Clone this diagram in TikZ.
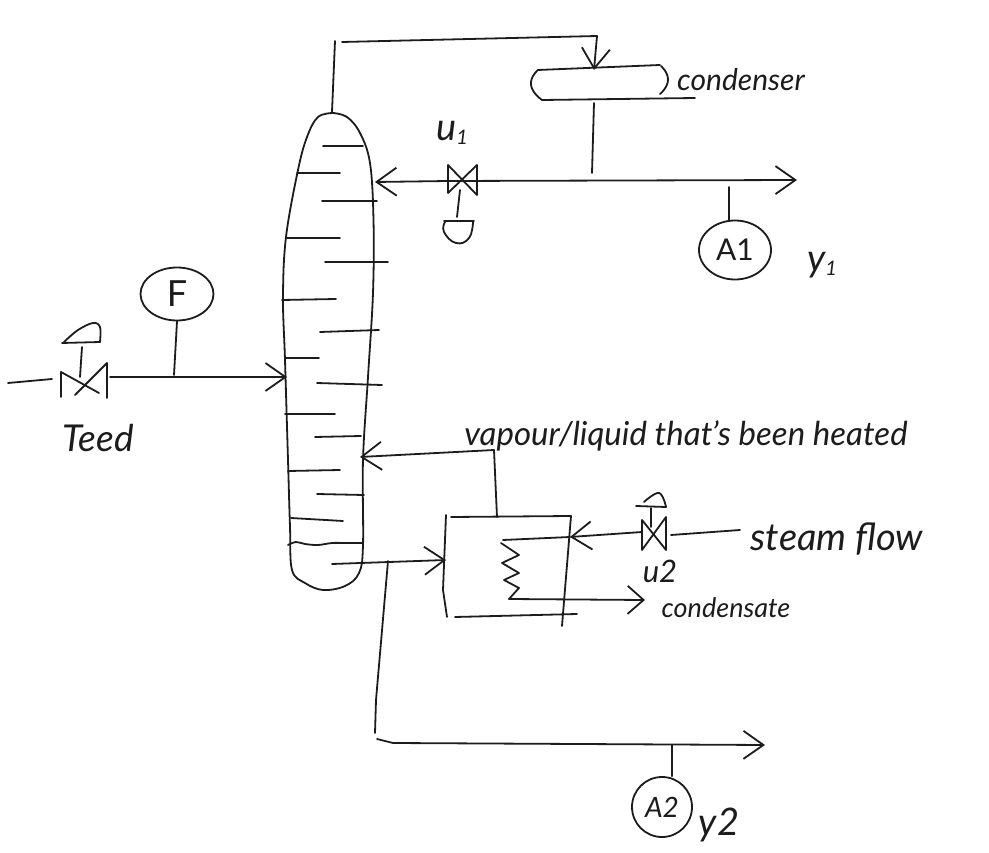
\documentclass[tikz,border=0pt]{standalone}
\usepackage{fontspec}
\setmainfont{Lato}
\usetikzlibrary{arrows.meta,shapes.geometric}
\definecolor{ink}{HTML}{1C1C1C}
\tikzset{
  ink/.style={draw=ink,line width=1.8pt,line cap=round,line join=round},
  flow/.style={ink,-{Straight Barb[length=#1pt,width=28pt,line width=1.8pt]}},
  flow/.default=20,
  inst/.style={ellipse,ink,inner sep=0pt,text=ink},
  hand/.style={text=ink,font=\fontsize{#1}{#1}\selectfont\itshape,inner sep=0pt},
  hand/.default=30
}
\begin{document}
\begin{tikzpicture}[x=1pt,y=-1pt]
\useasboundingbox (0,0) rectangle (989,853);
% column
\draw[ink] plot[smooth,tension=0.6] coordinates {(333,113)(318,117)(307,137)(298,170)(286,237)(283,297)(285,360)(288,460)(290,527)(292,570)(305,583)(323,590)(345,586)(359,573)(363,545)(363,460)(368,377)(373,293)(373.5,220)(370,163)(360,133)(347,117)(333,113)};
% trays
\foreach \xa/\ya/\xb/\yb in {323/146/363/146,297/173/340/173,322/201/377/201,287/238/340/238,325/262/388/262,282/300/336/299,320/332/379/330,285/358/319/358,317/383/382/385,285/414/335/414,315/437/361/436,288/471/340/470,317/494/364/495,291/518/343/521}
  \draw[ink] (\xa,\ya) -- (\xb,\yb);
% liquid level
\draw[ink] plot[smooth,tension=0.6] coordinates {(288,545)(296,542)(305,544)(318,545)(332,543)(345,543)(363,543)};
% key points
\coordinate (colTop) at (332,112);
\coordinate (topBend) at (335,41);
\coordinate (ovhStart) at (342,42);
\coordinate (ovhBend) at (597,36);
\coordinate (condIn) at (594,70);
\coordinate (condOut) at (594,103);
\coordinate (distJoin) at (592,173);
\coordinate (refluxIn) at (375,182);
\coordinate (distEnd) at (797,180);
\coordinate (tapA) at (729,187);
\coordinate (feedIn) at (287,377);
\coordinate (feedOut) at (110,377);
\coordinate (tapF) at (174,375);
\coordinate (feedSrc) at (8,383);
\coordinate (feedV) at (52,379);
\coordinate (rebRet) at (360,457);
\coordinate (rebBend) at (494,450);
\coordinate (rebTop) at (497,517);
\coordinate (botOut) at (332,564);
\coordinate (rebIn) at (446,560);
\coordinate (branch) at (388,561);
\coordinate (prodBend) at (377,739);
\coordinate (prodEnd) at (765,745);
\coordinate (tapB) at (672,745);
\coordinate (stmSrc) at (740,530);
\coordinate (stmV) at (671,535);
\coordinate (stmV2) at (642,532);
\coordinate (stmIn) at (570,537);
\coordinate (coilTop) at (503,540);
\coordinate (coilEnd) at (509,599);
\coordinate (condsEnd) at (645,600);
% instruments
\node[inst,minimum width=72pt,minimum height=59pt] (A1) at (735,250) {\fontsize{30}{30}\selectfont A1};
\node[inst,minimum width=73pt,minimum height=53pt] (F) at (177,294) {\fontsize{36}{36}\selectfont F};
\node[inst,minimum width=60pt,minimum height=60pt] (A2) at (662,807) {\fontsize{28}{28}\selectfont\itshape A2};
% overhead and condenser
\draw[ink] (colTop) -- (topBend);
\draw[flow] (ovhStart) -- (ovhBend) -- (condIn);
\draw[ink] (538,70) -- (660,65);
\draw[ink] plot[smooth,tension=1] coordinates {(538,70)(531,85)(542,100)};
\draw[ink] plot[smooth,tension=1] coordinates {(661,66)(668,80)(660,94)};
\draw[ink] (542,100) -- (695,98);
\draw[ink] (condOut) -- (distJoin);
\draw[flow] (448,181) -- (refluxIn);
\draw[flow] (448,181) -- (distEnd);
\draw[ink] (tapA) -- (tapA |- A1.north);
% valve u1
\draw[ink] (448,193) -- (448,165) -- (477,195) -- (477,165) -- (448,193);
\draw[ink] (460,190) -- (457,217);
\draw[ink] (444,221) -- (474,221);
\draw[ink] plot[smooth,tension=0.8] coordinates {(445,222)(444,232)(456,243)(469,238)(473,222)};
% feed
\draw[ink] (feedSrc) -- (feedV);
\draw[flow] (feedOut) -- (feedIn);
\draw[ink] (F.south) -- (tapF);
\draw[ink] (61,397) -- (61,372) -- (99,393);
\draw[ink] (107,398) -- (107,363) -- (75,395);
\draw[ink] (82,347) -- (80,377);
\draw[ink] (62,343) -- (100,342);
\draw[ink] plot[smooth,tension=0.6] coordinates {(64,342)(78,330)(93,323)(100,327)(100,342)};
% reboiler
\draw[flow] (rebTop) -- (rebBend) -- (rebRet);
\draw[ink] (451,517) -- (571,516);
\draw[ink] (446,515) -- (443,590) -- (447,617);
\draw[ink] (571,516) -- (562,626);
\draw[ink] (455,617) -- (577,614);
\draw[flow] (botOut) -- (rebIn);
\draw[ink] (stmIn) -- (coilTop);
\draw[ink] (501,543) -- (519,555) -- (502,563) -- (519,573) -- (504,580) -- (519,588) -- (coilEnd);
\draw[flow=16] (coilEnd) -- (condsEnd);
% steam
\draw[ink] (stmSrc) -- (stmV);
\draw[flow] (stmV2) -- (stmIn);
\draw[ink] (642,550) -- (642,520) -- (666,550) -- (666,517) -- (642,550);
\draw[ink] (651,508) -- (651,527);
\draw[ink] (636,506) -- (666,507);
\draw[ink] plot[smooth,tension=0.7] coordinates {(644,502)(659,493)(666,507)};
% product
\draw[ink] (branch) -- (376,700) -- (375,733);
\draw[flow] (prodBend) -- (393,743) -- (prodEnd);
\draw[ink] (tapB) -- (tapB |- A2.north);
% labels
\node[hand] (lblCond) at (741,80) {condenser};
\node[hand=38] (lblU1) at (452,133) {u\fontsize{20}{20}\selectfont\raisebox{-4pt}{1}};
\node[hand=38] (lblY1) at (822,265) {y\fontsize{20}{20}\selectfont\raisebox{-4pt}{1}};
\node[hand=37] (lblTeed) at (98,438) {Teed};
\node[hand=33] (lblVap) at (686,436) {vapour/liquid that's been heated};
\node[hand=38] (lblSteam) at (837,539) {steam flow};
\node[hand=31] (lblU2) at (660,571) {u2};
\node[hand=27] (lblCs) at (726,608) {condensate};
\node[hand=38] (lblY2) at (719,825) {y2};
\end{tikzpicture}
\end{document}
